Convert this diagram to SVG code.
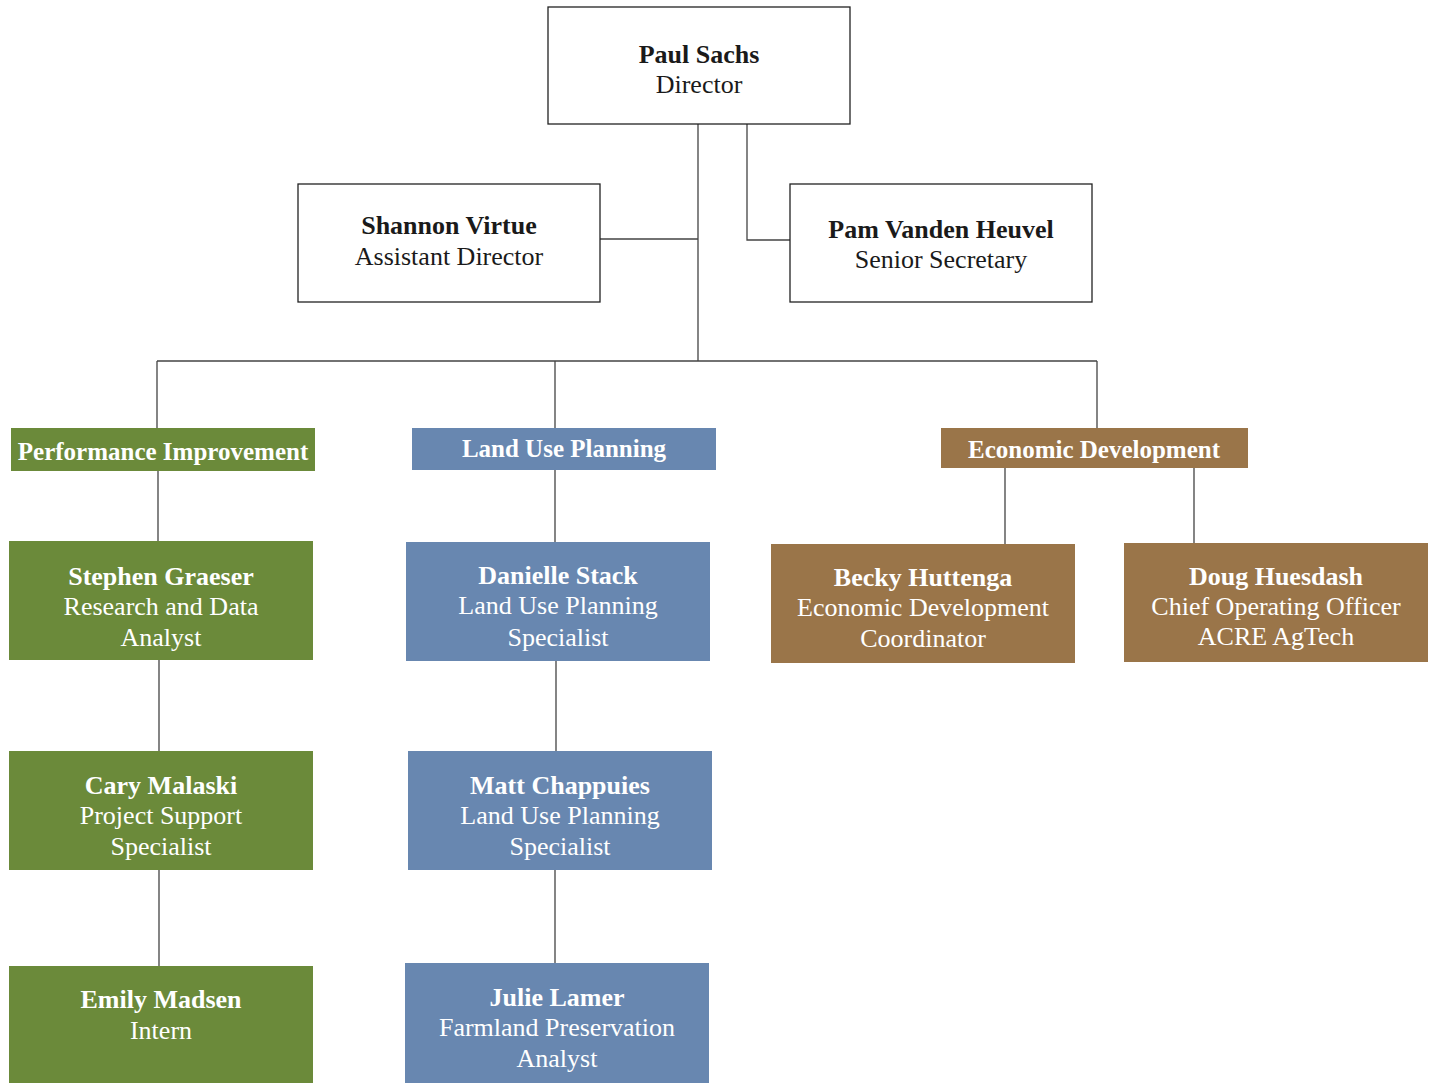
<svg xmlns="http://www.w3.org/2000/svg" width="1429" height="1083" viewBox="0 0 1429 1083">
<style>
.top{fill:#fff;stroke:#222;stroke-width:1.3}
.g{fill:#6b8a3a}.b{fill:#6887b0}.br{fill:#9a7549}
text{font-family:"Liberation Serif","Times New Roman",serif;text-anchor:middle;font-size:26px}
.n{font-weight:bold}
.dk{fill:#1a1a1a}
.w{fill:#fff}
.h{font-weight:bold;font-size:25px;fill:#fff}
.c{fill:none;stroke:#444;stroke-width:1.3}
</style>
<rect width="1429" height="1083" fill="#fff"/>
<g id="connectors">
<path class="c" d="M698 124V361M600 239H698M747 124V240H790M157 361H1097M157 361V428M555 361V428M1097 361V428"/>
<path class="c" d="M158 471V541M555 470V542M1005 468V544M1194 468V543M159 660V751M556 661V751M159 870V966M555 870V963"/>
</g>
<g id="director"><rect class="top" x="548" y="7" width="302" height="117"/><text class="dk n" x="699" y="63">Paul Sachs</text><text class="dk" x="699" y="93">Director</text></g>
<g id="shannon"><rect class="top" x="298" y="184" width="302" height="118"/><text class="dk n" x="449" y="234">Shannon Virtue</text><text class="dk" x="449" y="265">Assistant Director</text></g>
<g id="pam"><rect class="top" x="790" y="184" width="302" height="118"/><text class="dk n" x="941" y="238">Pam Vanden Heuvel</text><text class="dk" x="941" y="268">Senior Secretary</text></g>
<g id="perf"><rect class="g" x="11" y="428" width="304" height="43"/><text class="h" x="163" y="460">Performance Improvement</text></g>
<g id="landuse"><rect class="b" x="412" y="428" width="304" height="42"/><text class="h" x="564" y="457">Land Use Planning</text></g>
<g id="econ"><rect class="br" x="941" y="428" width="307" height="40"/><text class="h" x="1094" y="458">Economic Development</text></g>
<g id="stephen"><rect class="g" x="9" y="541" width="304" height="119"/><text class="w n" x="161" y="585">Stephen Graeser</text><text class="w" x="161" y="615">Research and Data</text><text class="w" x="161" y="646">Analyst</text></g>
<g id="danielle"><rect class="b" x="406" y="542" width="304" height="119"/><text class="w n" x="558" y="584">Danielle Stack</text><text class="w" x="558" y="614">Land Use Planning</text><text class="w" x="558" y="646">Specialist</text></g>
<g id="becky"><rect class="br" x="771" y="544" width="304" height="119"/><text class="w n" x="923" y="586">Becky Huttenga</text><text class="w" x="923" y="616">Economic Development</text><text class="w" x="923" y="647">Coordinator</text></g>
<g id="doug"><rect class="br" x="1124" y="543" width="304" height="119"/><text class="w n" x="1276" y="585">Doug Huesdash</text><text class="w" x="1276" y="615">Chief Operating Officer</text><text class="w" x="1276" y="645">ACRE AgTech</text></g>
<g id="cary"><rect class="g" x="9" y="751" width="304" height="119"/><text class="w n" x="161" y="794">Cary Malaski</text><text class="w" x="161" y="824">Project Support</text><text class="w" x="161" y="855">Specialist</text></g>
<g id="matt"><rect class="b" x="408" y="751" width="304" height="119"/><text class="w n" x="560" y="794">Matt Chappuies</text><text class="w" x="560" y="824">Land Use Planning</text><text class="w" x="560" y="855">Specialist</text></g>
<g id="emily"><rect class="g" x="9" y="966" width="304" height="117"/><text class="w n" x="161" y="1008">Emily Madsen</text><text class="w" x="161" y="1039">Intern</text></g>
<g id="julie"><rect class="b" x="405" y="963" width="304" height="120"/><text class="w n" x="557" y="1006">Julie Lamer</text><text class="w" x="557" y="1036">Farmland Preservation</text><text class="w" x="557" y="1067">Analyst</text></g>
</svg>
